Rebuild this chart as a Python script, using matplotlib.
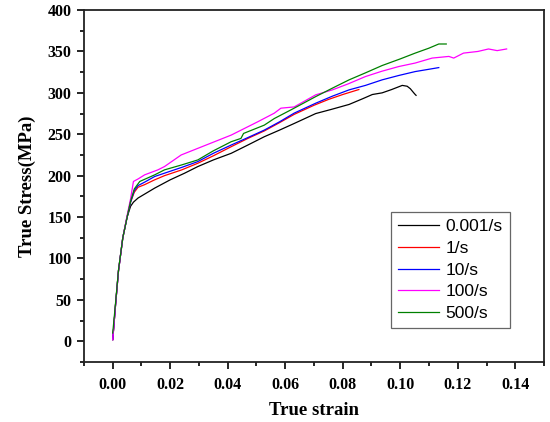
import matplotlib
matplotlib.use("Agg")
import matplotlib.pyplot as plt
from matplotlib.ticker import MultipleLocator

# curves (true strain, true stress MPa)
strain_0001 = [0, 0.001, 0.002, 0.0035, 0.005, 0.0062, 0.0072, 0.0088, 0.0146, 0.02,
               0.025, 0.0296, 0.035, 0.0412, 0.047, 0.0527, 0.058, 0.0631, 0.0706, 0.076,
               0.0822, 0.087, 0.0903, 0.0937, 0.097, 0.1007, 0.1024, 0.1035, 0.1047, 0.1052, 0.1055]
stress_0001 = [2, 45, 85, 125, 150, 163, 168, 173, 185, 195,
               203, 211, 219, 227, 237, 247, 255, 263, 275, 280,
               286, 293, 298, 300, 304, 309, 308, 305, 300, 298, 297]

strain_1 = [0, 0.001, 0.002, 0.0035, 0.005, 0.0062, 0.0075, 0.0088, 0.011, 0.0146, 0.018, 0.024,
            0.0296, 0.035, 0.0412, 0.047, 0.0527, 0.058, 0.0631, 0.07, 0.075, 0.08, 0.0856]
stress_1 = [2, 45, 85, 125, 150, 168, 180, 186, 189, 195, 200, 207,
            215, 224, 235, 245, 254, 264, 274, 285, 292, 298, 304]

strain_10 = [0, 0.001, 0.002, 0.0035, 0.005, 0.0062, 0.0075, 0.0088, 0.011, 0.0146, 0.018, 0.024,
             0.0296, 0.035, 0.0412, 0.047, 0.0527, 0.058, 0.0631, 0.0706, 0.0764, 0.0822,
             0.0879, 0.0937, 0.0995, 0.1052, 0.11, 0.1134]
stress_10 = [2, 45, 85, 125, 150, 168, 182, 188, 192, 199, 203, 210,
             217, 227, 237, 246, 255, 265, 275.5, 287.5, 296, 303.6,
             309, 315.7, 321, 325.7, 328.5, 330.5]

strain_100 = [0, 0.001, 0.002, 0.0035, 0.005, 0.0062, 0.0072, 0.0088, 0.0111, 0.0157, 0.018,
              0.0238, 0.0296, 0.0354, 0.0412, 0.0458, 0.0504, 0.0562, 0.0585, 0.0631,
              0.0706, 0.0764, 0.082, 0.0879, 0.0935, 0.0995, 0.1052, 0.1111, 0.1169,
              0.1186, 0.122, 0.127, 0.1307, 0.1337, 0.137]
stress_100 = [2, 45, 85, 125, 152, 172, 193, 196, 201, 207, 211,
              225, 233, 241, 249, 257, 265, 275.5, 281.5, 283,
              297.6, 303.6, 311, 319.7, 326, 331.8, 336, 342, 344,
              342, 348, 350, 353, 351, 353]

strain_500 = [0, 0.001, 0.002, 0.0035, 0.005, 0.0062, 0.0075, 0.0094, 0.0146, 0.018, 0.024,
              0.0296, 0.035, 0.0412, 0.0446, 0.0455, 0.0527, 0.0562, 0.0631, 0.0706, 0.0775,
              0.0822, 0.0878, 0.0937, 0.1, 0.1052, 0.11, 0.1134, 0.116]
stress_500 = [10, 47, 86, 125, 150, 169, 184, 193, 201, 207, 213,
              219, 230, 241, 245, 251, 261, 269, 281.5, 295.5, 307.6,
              315.7, 324, 333, 341, 348, 354, 359, 359]

labels = ["0.001/s", "1/s", "10/s", "100/s", "500/s"]
colors = ["black", "red", "blue", "#ff00ff", "#008000"]
series = [(strain_0001, stress_0001), (strain_1, stress_1), (strain_10, stress_10),
          (strain_100, stress_100), (strain_500, stress_500)]

plt.rcParams["font.family"] = "Liberation Serif"

fig = plt.figure(figsize=(5.5, 4.22), dpi=100)
ax = fig.add_axes([0.1527, 0.1422, 0.8364, 0.834])

for (x, y), lab, c in zip(series, labels, colors):
    ax.plot(x, y, color=c, lw=0.9, label=lab)

ax.set_xlim(-0.01, 0.15)
ax.set_ylim(-25, 400)
ax.xaxis.set_minor_locator(MultipleLocator(0.01))
ax.yaxis.set_major_locator(MultipleLocator(50))
ax.yaxis.set_minor_locator(MultipleLocator(25))
ax.set_xticks([0, 0.02, 0.04, 0.06, 0.08, 0.1, 0.12, 0.14])
ax.set_xticklabels(["0.00", "0.02", "0.04", "0.06", "0.08", "0.10", "0.12", "0.14"])
ax.tick_params(which="major", direction="out", length=5, width=1.2, labelsize=11.5)
ax.tick_params(which="minor", direction="out", length=3, width=1.2)
ax.tick_params(axis="x", which="major", pad=6)
ax.tick_params(axis="y", which="major", pad=4)
for lbl in ax.get_xticklabels() + ax.get_yticklabels():
    lbl.set_fontweight("bold")
for sp in ax.spines.values():
    sp.set_linewidth(1.3)
    sp.set_color("#222222")

ax.set_xlabel("True strain", fontsize=13.5, fontweight="bold", labelpad=6)
ax.set_ylabel("True Stress(MPa)", fontsize=13.5, fontweight="bold", labelpad=8)

leg = ax.legend(loc="upper left", bbox_to_anchor=(0.667, 0.426), borderaxespad=0,
                prop={"family": "Liberation Sans", "size": 12.5}, fancybox=False,
                handlelength=2.4, handletextpad=0.35, labelspacing=0.38, borderpad=0.4,
                framealpha=1)
leg.get_frame().set_edgecolor("#666666")
leg.get_frame().set_linewidth(0.9)

fig.savefig("out.png", dpi=100)
